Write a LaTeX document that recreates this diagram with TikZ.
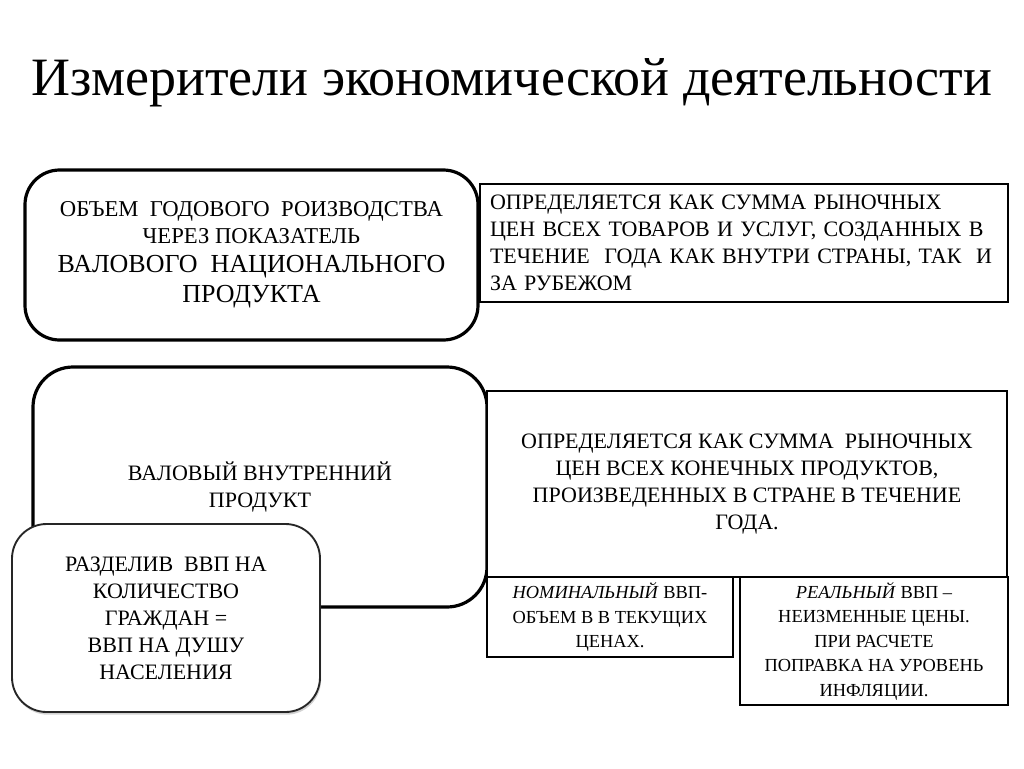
\documentclass[tikz,border=0pt]{standalone}
\usepackage{fontspec}
\setmainfont{Liberation Serif}
\usetikzlibrary{shadows}
\begin{document}
\begin{tikzpicture}[x=0.75pt,y=-0.75pt,
  rbox/.style={draw=black, line width=2.4pt, fill=white, rounded corners=26pt, inner sep=0pt, align=center},
  sbox/.style={draw=black, line width=1.6pt, fill=white, inner sep=0pt, align=center},
  txt/.style={font=\fontsize{16.5}{20.3}\selectfont}
]
\useasboundingbox[fill=white] (0,0) rectangle (1024,768);
% title
\node[anchor=base, xscale=1.0, font=\fontsize{40.5}{48}\selectfont] (title) at (512,95) {Измерители экономической деятельности};
% row 1
\node[sbox, minimum width=528*0.75pt, minimum height=118*0.75pt, text width=508*0.75pt, align=left, txt] (def1) at (744,243)
 {ОПРЕДЕЛЯЕТСЯ КАК СУММА РЫНОЧНЫХ\\ЦЕН ВСЕХ ТОВАРОВ И УСЛУГ, СОЗДАННЫХ В\\ТЕЧЕНИЕ\ \ ГОДА КАК ВНУТРИ СТРАНЫ, ТАК\ \ И\\ЗА РУБЕЖОМ};
\node[rbox, minimum width=453*0.75pt, minimum height=170*0.75pt, font=\fontsize{17}{20}\selectfont] (gnp) at (251.5,255)
 {ОБЪЕМ\ \ ГОДОВОГО\ \ РОИЗВОДСТВА\\
  ЧЕРЕЗ ПОКАЗАТЕЛЬ\\[2pt]
  \fontsize{19.5}{22}\selectfont ВАЛОВОГО\ \ НАЦИОНАЛЬНОГО\\[2.5pt]
  \fontsize{19.5}{22}\selectfont ПРОДУКТА};
% row 2
\node[rbox, minimum width=454*0.75pt, minimum height=240*0.75pt, rounded corners=30pt, txt] (gdp) at (260,487)
 {ВАЛОВЫЙ ВНУТРЕННИЙ\\ПРОДУКТ};
\node[sbox, minimum width=520*0.75pt, minimum height=186*0.75pt, txt] (def2) at (747,484)
 {ОПРЕДЕЛЯЕТСЯ КАК СУММА\ \ РЫНОЧНЫХ\\ЦЕН ВСЕХ КОНЕЧНЫХ ПРОДУКТОВ,\\ПРОИЗВЕДЕННЫХ В СТРАНЕ В ТЕЧЕНИЕ\\ГОДА.};
\node[sbox, minimum width=246*0.75pt, minimum height=80*0.75pt, font=\fontsize{13.8}{18.4}\selectfont] (nom) at (610,617)
 {\textit{НОМИНАЛЬНЫЙ} ВВП-\\ОБЪЕМ В В ТЕКУЩИХ\\ЦЕНАХ.};
\node[sbox, minimum width=268*0.75pt, minimum height=128*0.75pt, font=\fontsize{13.8}{18.4}\selectfont] (real) at (874,641)
 {\textit{РЕАЛЬНЫЙ} ВВП --\\НЕИЗМЕННЫЕ ЦЕНЫ.\\ПРИ РАСЧЕТЕ\\ПОПРАВКА НА УРОВЕНЬ\\ИНФЛЯЦИИ.};
\node[rbox, line width=1.4pt, draw=black!85, minimum width=308*0.75pt, minimum height=188*0.75pt, rounded corners=26pt, txt,
  drop shadow={opacity=0.35, shadow xshift=0.8pt, shadow yshift=-2pt}] (percap) at (166,618)
 {РАЗДЕЛИВ\ \ ВВП НА\\КОЛИЧЕСТВО\\ГРАЖДАН =\\ВВП НА ДУШУ\\НАСЕЛЕНИЯ};
\end{tikzpicture}
\end{document}
